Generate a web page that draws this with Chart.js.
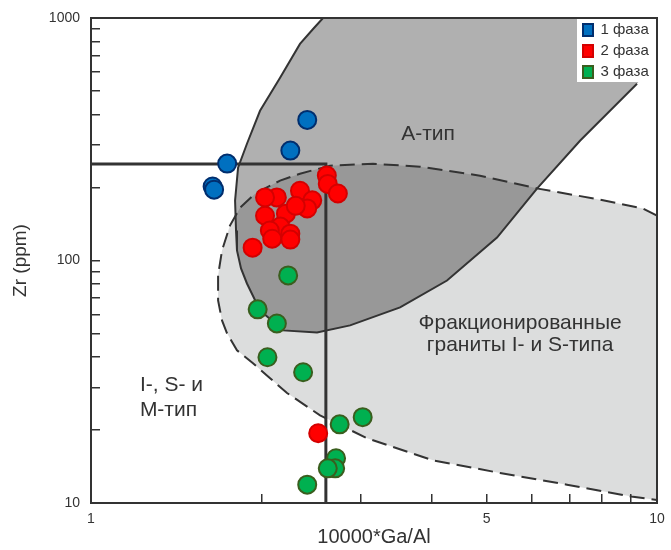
<!DOCTYPE html>
<html>
<head>
<meta charset="utf-8">
<title>Zr – 10000*Ga/Al</title>
<script src="https://cdn.jsdelivr.net/npm/chart.js@4.4.1/dist/chart.umd.min.js"></script>
<style>
  html, body { margin: 0; padding: 0; background: #fff; }
  #wrap { width: 671px; height: 550px; }
</style>
</head>
<body>
<div id="wrap"><canvas id="chart" width="671" height="550"></canvas></div>
<script>
const seriesNames = ["1 фаза", "2 фаза", "3 фаза"];

// 10000*Ga/Al (x) vs Zr, ppm (y)
const phase1 = [
  {x: 2.41, y: 380}, {x: 2.25, y: 284}, {x: 1.74, y: 251},
  {x: 1.64, y: 202}, {x: 1.65, y: 196}
];
const phase2 = [
  {x: 2.61, y: 224}, {x: 2.62, y: 207}, {x: 2.73, y: 189}, {x: 2.34, y: 194},
  {x: 2.46, y: 177}, {x: 2.41, y: 164}, {x: 2.13, y: 182}, {x: 2.03, y: 182},
  {x: 2.03, y: 153}, {x: 2.21, y: 156}, {x: 2.30, y: 168}, {x: 2.16, y: 138},
  {x: 2.07, y: 133}, {x: 2.25, y: 129}, {x: 2.25, y: 122}, {x: 2.09, y: 123},
  {x: 1.93, y: 113}, {x: 2.52, y: 19.4}
];
const phase3 = [
  {x: 2.23, y: 86.8}, {x: 1.97, y: 62.9}, {x: 2.13, y: 55.0}, {x: 2.05, y: 39.9},
  {x: 2.37, y: 34.6}, {x: 2.75, y: 21.1}, {x: 3.02, y: 22.6}, {x: 2.71, y: 15.3},
  {x: 2.70, y: 13.9}, {x: 2.62, y: 13.9}, {x: 2.41, y: 11.9}
];

// field boundaries
const aTypeBoundary = [
  {x: 2.570, y: 1000}, {x: 2.468, y: 901}, {x: 2.340, y: 781.6}, {x: 2.158, y: 566.6},
  {x: 1.989, y: 414.3}, {x: 1.886, y: 303.0}, {x: 1.819, y: 241.4}, {x: 1.797, y: 176.6},
  {x: 1.804, y: 132.9}, {x: 1.811, y: 110.0}, {x: 1.841, y: 92.7}, {x: 1.886, y: 80.4},
  {x: 1.989, y: 62.3}, {x: 2.184, y: 51.5}, {x: 2.508, y: 50.5}, {x: 2.869, y: 54.0},
  {x: 3.516, y: 64.1}, {x: 4.256, y: 82.7}, {x: 5.216, y: 124.3}, {x: 6.137, y: 197.9},
  {x: 7.311, y: 311.8}, {x: 9.219, y: 535.4}
];
const aTypeHidden = [{x: 10, y: 678}, {x: 10, y: 1000}];
const fracBoundary = [
  {x: 10, y: 153.2}, {x: 9.447, y: 163.7}, {x: 7.932, y: 178.2}, {x: 6.163, y: 197.9},
  {x: 4.867, y: 223.8}, {x: 3.814, y: 243.7}, {x: 3.150, y: 250.6}, {x: 2.644, y: 246.0},
  {x: 2.340, y: 228.0}, {x: 2.158, y: 213.5}, {x: 1.949, y: 188.7}, {x: 1.834, y: 165.2},
  {x: 1.760, y: 139.3}, {x: 1.704, y: 110.0}, {x: 1.677, y: 86.8}, {x: 1.677, y: 68.4},
  {x: 1.704, y: 56.6}, {x: 1.739, y: 50.1}, {x: 1.811, y: 42.6}, {x: 1.933, y: 37.7},
  {x: 2.072, y: 32.7}, {x: 2.220, y: 28.4}, {x: 2.539, y: 23.0}, {x: 3.074, y: 18.5},
  {x: 4.021, y: 15.0}, {x: 5.281, y: 13.3}, {x: 6.934, y: 11.9}, {x: 9.071, y: 10.6},
  {x: 10, y: 10.3}
];
const whalenLines = [{x: 1, y: 250}, {x: 2.6, y: 250}, {x: 2.6, y: 10}];

const xTickMarks = [1, 2, 3, 4, 5, 6, 7, 8, 9, 10];
const yTickMarks = [10, 20, 30, 40, 50, 60, 70, 80, 90, 100, 200, 300, 400, 500, 600, 700, 800, 900, 1000];
const xTickLabels = [1, 5, 10];
const yTickLabels = [10, 100, 1000];

const FONT = "Arial, 'Liberation Sans', sans-serif";
const INK = "#333333";

function labelFor(list) {
  return (v) => list.find(t => Math.abs(t - v) < 1e-6) !== undefined ? String(v) : "";
}

// gray fields, their captions and the legend backing, under everything else
const fields = {
  id: "fields",
  afterLayout(chart) {
    const lg = chart.legend;
    const area = chart.chartArea;
    lg.left = area.right - 80;
    lg.right = lg.left + lg.width;
    lg.top = area.top - 1.5;
    lg.bottom = lg.top + lg.height;
  },
  beforeDraw(chart) {
    const {ctx, chartArea: area, scales: {x, y}} = chart;
    const fillPoly = (pts, color) => {
      ctx.beginPath();
      pts.forEach((p, i) => {
        const px = x.getPixelForValue(p.x), py = y.getPixelForValue(p.y);
        if (i === 0) ctx.moveTo(px, py); else ctx.lineTo(px, py);
      });
      ctx.closePath();
      ctx.fillStyle = color;
      ctx.fill();
    };
    ctx.save();
    ctx.beginPath();
    ctx.rect(area.left, area.top, area.width, area.height);
    ctx.clip();
    fillPoly(fracBoundary, "#dcdddd");
    fillPoly(aTypeBoundary.concat(aTypeHidden), "rgba(0,0,0,0.31)");

    ctx.fillStyle = INK;
    ctx.textBaseline = "middle";
    ctx.textAlign = "center";
    ctx.font = "21px " + FONT;
    ctx.fillText("А-тип", x.getPixelForValue(3.94), y.getPixelForValue(333));
    ctx.fillText("Фракционированные", x.getPixelForValue(5.73), y.getPixelForValue(55.0));
    ctx.fillText("граниты I- и S-типа", x.getPixelForValue(5.73), y.getPixelForValue(44.7));
    ctx.textAlign = "left";
    ctx.fillText("I-, S- и", x.getPixelForValue(1.22), y.getPixelForValue(30.6));
    ctx.fillText("М-тип", x.getPixelForValue(1.22), y.getPixelForValue(24.1));

    const lg = chart.legend;
    ctx.fillStyle = "#ffffff";
    ctx.fillRect(lg.left, area.top, area.right - lg.left, 64);
    ctx.restore();
  },
  afterDraw(chart) {
    const {ctx, chartArea: area} = chart;
    ctx.save();
    ctx.strokeStyle = INK;
    ctx.lineWidth = 2;
    ctx.strokeRect(area.left, area.top, area.width, area.height);
    ctx.restore();
  }
};

const pointSet = (label, data, fill, edge) => ({
  label, data,
  backgroundColor: fill,
  borderColor: edge,
  borderWidth: 2,
  pointRadius: 9,
  pointHoverRadius: 9
});
const lineSet = (data, width, dash) => ({
  data,
  showLine: true,
  borderColor: INK,
  borderWidth: width,
  borderDash: dash,
  pointRadius: 0,
  pointHoverRadius: 0,
  fill: false
});

const axisLog = (min, max, marks, labels, title, isX) => ({
  type: "logarithmic",
  min, max,
  afterBuildTicks: (scale) => { scale.ticks = marks.map(v => ({value: v})); },
  afterFit: (scale) => {
    if (isX) scale.height = 47; else scale.width = 91;
    // labels sit outside the frame, keep the plot box where it is
    scale.paddingTop = scale.paddingBottom = scale.paddingLeft = scale.paddingRight = 0;
  },
  border: {display: true, color: INK, width: 2},
  grid: {
    display: true,
    drawOnChartArea: false,
    drawTicks: true,
    tickLength: -9,
    color: INK,
    lineWidth: 1.5
  },
  ticks: {
    autoSkip: false,
    maxRotation: 0,
    padding: isX ? 17 : 20,
    color: INK,
    font: {family: FONT, size: 14},
    callback: labelFor(labels)
  },
  title: {
    display: true,
    text: title,
    color: INK,
    font: {family: FONT, size: isX ? 20 : 19},
    padding: isX ? {top: 0, bottom: 1} : {top: 9.6, bottom: 0}
  }
});

new Chart(document.getElementById("chart"), {
  type: "scatter",
  data: {
    datasets: [
      pointSet(seriesNames[0], phase1, "#0070c0", "#002e6e"),
      pointSet(seriesNames[1], phase2, "#ff0000", "#d40000"),
      pointSet(seriesNames[2], phase3, "#00b050", "#3a5e1e"),
      lineSet(whalenLines, 3, []),
      lineSet(aTypeBoundary, 2, []),
      lineSet(fracBoundary, 2, [15, 7])
    ]
  },
  options: {
    responsive: false,
    devicePixelRatio: 1,
    animation: false,
    layout: {padding: {top: 18, right: 14, left: 0, bottom: 0}},
    scales: {
      x: axisLog(1, 10, xTickMarks, xTickLabels, "10000*Ga/Al", true),
      y: axisLog(10, 1000, yTickMarks, yTickLabels, "Zr (ppm)", false)
    },
    plugins: {
      legend: {
        position: "chartArea",
        align: "start",
        labels: {
          boxWidth: 10,
          boxHeight: 12,
          padding: 6,
          color: INK,
          font: {family: FONT, size: 15},
          filter: (item) => item.datasetIndex < 3
        }
      },
      tooltip: {enabled: false}
    }
  },
  plugins: [fields]
});
</script>
</body>
</html>
